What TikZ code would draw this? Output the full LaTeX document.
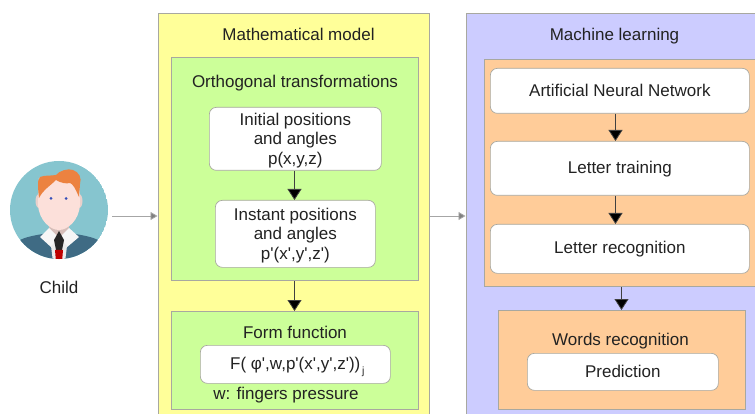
\documentclass[tikz,border=0pt]{standalone}
\usepackage{fontspec}
\setmainfont{Liberation Sans}
\usetikzlibrary{arrows.meta}
\newcommand{\ap}{\textquotesingle}
\newcommand{\threelines}[3]{\begin{tabular}{@{}c@{}}\\[-15pt]#1\\#2\\#3\end{tabular}}
\definecolor{txt}{HTML}{222222}
\definecolor{yel}{HTML}{FFFF99}
\definecolor{blu}{HTML}{CCCCFF}
\definecolor{grn}{HTML}{CCFF99}
\definecolor{org}{HTML}{FFCC99}
\definecolor{edge}{HTML}{A8A8A0}
\definecolor{teal}{HTML}{86C5CF}
\definecolor{hair}{HTML}{EC8240}
\definecolor{skin}{HTML}{FCE0DA}
\definecolor{coat}{HTML}{3F6B84}
\tikzset{
  x=1pt,y=-1pt,
  panel/.style={draw=edge,line width=.8pt,rectangle,inner sep=0pt,anchor=north west},
  yelpanel/.style={panel,fill=yel},
  blupanel/.style={panel,fill=blu},
  grnpanel/.style={panel,fill=grn},
  orgpanel/.style={panel,fill=org},
  card/.style={draw=edge,line width=.7pt,fill=white,rounded corners=7pt,rectangle,inner sep=0pt,anchor=north west,text=txt,align=center,font=\fontsize{17}{19.5}\selectfont},
  lab/.style={text=txt,inner sep=0pt,align=center,font=\fontsize{17}{19.5}\selectfont},
  flow/.style={draw=black!75,line width=.8pt,-{Triangle[length=11pt,width=14pt,fill=black]},shorten >=0pt},
  grayflow/.style={draw=gray!70,line width=.8pt,-{Triangle[length=7pt,width=8pt,fill=gray]}},
}
\begin{document}
\begin{tikzpicture}
\useasboundingbox (0,0) rectangle (755,414);
\clip (0,0) rectangle (755,414);
\fill[white] (0,0) rectangle (755,414);
% panels
\node[yelpanel,minimum width=271pt,minimum height=420pt] (math) at (157.5,13) {};
\node[blupanel,minimum width=310pt,minimum height=420pt] (ml) at (465.5,13) {};
\node[grnpanel,minimum width=247pt,minimum height=223pt] (ortho) at (170.5,57) {};
\node[grnpanel,minimum width=247pt,minimum height=98pt] (form) at (170.5,311) {};
\node[orgpanel,minimum width=290pt,minimum height=227pt] (nnbox) at (484,59) {};
\node[orgpanel,minimum width=247pt,minimum height=99pt] (words) at (498,310) {};
% titles
\node[lab] (mathT) at (298.5,34.5) {Mathematical model};
\node[lab] (mlT) at (614.5,36) {Machine learning};
\node[lab] (orthoT) at (295,83) {Orthogonal transformations};
\node[lab] (formT) at (295,332) {Form function};
\node[lab] (wordsT) at (620.5,341.5) {Words recognition};
\node[lab] (press) at (286,395) {w: fingers pressure};
\node[lab] (childT) at (59,287) {Child};
% cards
\node[card,minimum width=172pt,minimum height=60pt] (init) at (209,107) {\threelines{Initial positions}{and angles}{p(x,y,z)}};
\node[card,minimum width=160pt,minimum height=67pt] (inst) at (215,200) {\threelines{Instant positions}{and angles}{p\ap(x\ap,y\ap,z\ap)}};
\node[card,minimum width=190pt,minimum height=38pt] (func) at (200,345) {};
\node[lab,anchor=base west] (funcT) at (230,369.5) {F( φ\ap,w,p\ap(x\ap,y\ap,z\ap))};
\node[lab,anchor=base west,font=\fontsize{10.5}{12}\selectfont] (funcI) at (362,374) {j};
\node[card,minimum width=259pt,minimum height=45pt] (ann) at (490,68) {Artificial Neural Network};
\node[card,minimum width=259pt,minimum height=54pt] (train) at (490,141) {\rule{0pt}{14.4pt}Letter training};
\node[card,minimum width=259pt,minimum height=49pt] (recog) at (490,224) {\rule{0pt}{13.4pt}Letter recognition};
\node[card,minimum width=191pt,minimum height=37pt] (pred) at (527,353) {Prediction};
% child figure
\begin{scope}
\clip (59,210) circle (49);
\fill[teal] (59,210) circle (49);
% shoulders
\fill[coat] (20,240) .. controls (30,235) and (42,235) .. (50,232) -- (68,232) .. controls (76,235) and (88,235) .. (98,240) -- (98,262) -- (20,262) -- cycle;
% neck + collar
\fill[skin!85!black] (49,222) rectangle (69,238);
\fill[white!93!gray] (49,228) -- (59,238) -- (69,228) -- (79,237) -- (66,248) -- (59,238) -- (52,248) -- (40,237) -- cycle;
% shirt + tie
\fill[white!85!gray] (51,246) -- (59,238) -- (67,246) -- (65,262) -- (53,262) -- cycle;
\fill[black!85] (59,231) -- (64,240) -- (62,250) -- (56,250) -- (54,240) -- cycle;
\fill[red!75!black] (55,250) -- (63,250) -- (62,262) -- (56,262) -- cycle;
% ears
\fill[skin!93!black] (39,201) circle (3.5 and 7);
\fill[skin!93!black] (79,201) circle (3.5 and 7);
% face
\fill[skin] (39,178) -- (79,178) -- (80,205) .. controls (79,220) and (68,230) .. (59,230) .. controls (50,230) and (39,220) .. (38,205) -- cycle;
% hair
\fill[hair] (39,198) .. controls (38,188) and (37,180) .. (40,177) .. controls (45,175) and (50,176) .. (56,175) .. controls (59,171) and (68,168) .. (73,170) .. controls (79,172) and (82,178) .. (80,184) .. controls (80,188) and (79,192) .. (79,197) .. controls (75,188) and (73,184) .. (70,183) .. controls (66,184) and (61,183) .. (56,180) .. controls (50,186) and (43,190) .. (39,198) -- cycle;
% eyes
\fill[blue!50!teal!80!black] (51,198.5) circle (1.5);
\fill[blue!50!teal!80!black] (66,198.5) circle (1.5);
\end{scope}
\coordinate (childOut) at (112,216);
% connectors
\draw[flow] (init.south -| 294.5,0) -- (inst.north -| 294.5,0);
\draw[flow] (ortho.south -| 294.5,0) -- (form.north -| 294.5,0);
\draw[flow] (ann.south -| 615.5,0) -- (train.north -| 615.5,0);
\draw[flow] (train.south -| 615.5,0) -- (recog.north -| 615.5,0);
\draw[flow] (nnbox.south -| 621.5,0) -- (words.north -| 621.5,0);
\draw[grayflow] (childOut) -- (math.west |- childOut);
\draw[grayflow] (math.east |- childOut) -- (ml.west |- childOut);
\end{tikzpicture}
\end{document}
